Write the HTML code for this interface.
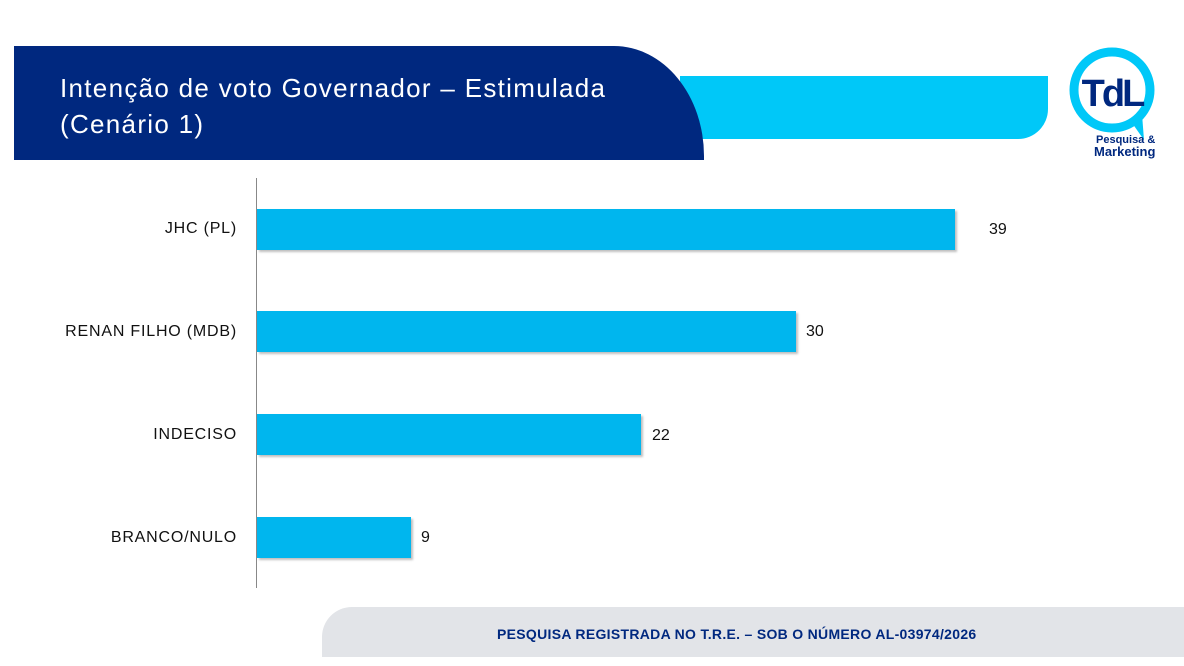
<!DOCTYPE html>
<html><head><meta charset="utf-8"><style>
body{margin:0;width:1184px;height:666px;background:#fff;position:relative;overflow:hidden;font-family:"Liberation Sans",sans-serif}
.a{position:absolute}
.bar{position:absolute;left:257px;height:41px;background:#00b6ee;box-shadow:2px 2px 2px rgba(0,0,0,.25)}
.lab{position:absolute;right:947px;font-size:16px;letter-spacing:0.8px;color:#111;text-align:right;white-space:nowrap}
.val{position:absolute;font-size:16px;color:#111}
</style></head><body>
<div class="a" style="left:680px;top:76px;width:368px;height:63px;background:#00c8f8;border-bottom-right-radius:30px"></div>
<div class="a" style="left:14px;top:46px;width:690px;height:114px;background:#00287f;border-top-right-radius:90px 110px"></div>
<div class="a" style="left:60px;top:70px;color:#fff;font-size:26px;letter-spacing:1.3px;line-height:36px">Intenção de voto Governador – Estimulada<br>(Cenário 1)</div>
<svg class="a" style="left:1060px;top:44px" width="110" height="118">
<circle cx="52" cy="46" r="38" fill="none" stroke="#00c8f8" stroke-width="9"/>
<path d="M70 76 L84 96 L82 70Z" fill="#00c8f8"/>
<text x="52" y="62" text-anchor="middle" font-family="Liberation Sans" font-weight="bold" font-size="38" fill="#00287f" letter-spacing="-3">TdL</text>
<text x="36" y="99" font-family="Liberation Sans" font-weight="bold" font-size="11" fill="#00287f">Pesquisa &amp;</text>
<text x="34" y="112" font-family="Liberation Sans" font-weight="bold" font-size="13" fill="#00287f">Marketing</text>
</svg>
<div class="a" style="left:256px;top:178px;width:1px;height:410px;background:#888"></div>
<div class="bar" style="top:209px;width:698px"></div>
<div class="bar" style="top:311px;width:539px"></div>
<div class="bar" style="top:414px;width:384px"></div>
<div class="bar" style="top:517px;width:154px"></div>
<div class="lab" style="top:220px">JHC (PL)</div>
<div class="lab" style="top:323px">RENAN FILHO (MDB)</div>
<div class="lab" style="top:426px">INDECISO</div>
<div class="lab" style="top:529px">BRANCO/NULO</div>
<div class="val" style="left:989px;top:221px">39</div>
<div class="val" style="left:806px;top:323px">30</div>
<div class="val" style="left:652px;top:427px">22</div>
<div class="val" style="left:421px;top:529px">9</div>
<div class="a" style="left:322px;top:607px;width:870px;height:50px;background:#e2e4e8;border-top-left-radius:30px"></div>
<div class="a" style="left:497px;top:626px;white-space:nowrap;font-size:14px;font-weight:bold;letter-spacing:0.3px;color:#00287f">PESQUISA REGISTRADA NO T.R.E. – SOB O NÚMERO AL-03974/2026</div>
</body></html>
